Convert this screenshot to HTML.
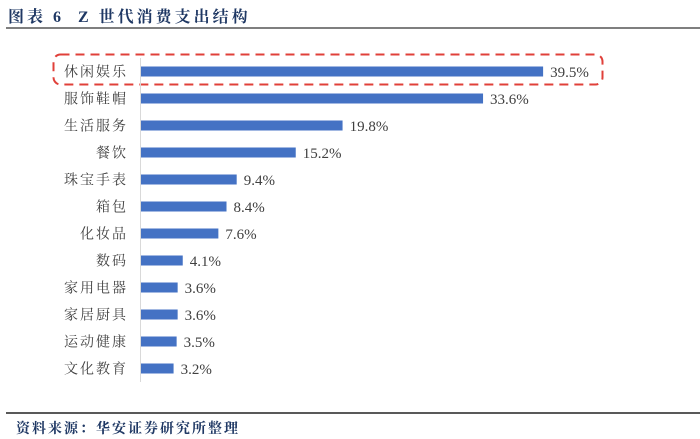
<!DOCTYPE html>
<html><head><meta charset="utf-8"><style>
body{margin:0;background:#fff;width:700px;height:439px;overflow:hidden;position:relative}
.t{position:absolute;font-family:"Liberation Serif","Noto Serif CJK SC",serif;font-weight:bold;color:#1f3864}
</style></head><body>
<div class="t" style="left:8px;top:4px;font-size:16px;letter-spacing:3px">图表 6&nbsp; Z 世代消费支出结构</div>
<div style="position:absolute;left:6px;top:27px;width:694px;height:2px;background:#7f7f7f"></div>
<svg id="chart" width="700" height="439" style="position:absolute;left:0;top:0">
<rect x="53.5" y="54.5" width="549" height="30" rx="7" fill="none" stroke="#e0403a" stroke-width="2" stroke-dasharray="9,6"/>
<line x1="140.5" y1="58" x2="140.5" y2="382" stroke="#d9d9d9" stroke-width="1"/>
</svg>
<div style="position:absolute;left:6px;top:412px;width:694px;height:2px;background:#595959"></div>
<div class="t" style="left:16px;top:418px;font-size:14px;letter-spacing:2px">资料来源：华安证券研究所整理</div>
<script>
const categories=["休闲娱乐","服饰鞋帽","生活服务","餐饮","珠宝手表","箱包","化妆品","数码","家用电器","家居厨具","运动健康","文化教育"];
const values=[39.5,33.6,19.8,15.2,9.4,8.4,7.6,4.1,3.6,3.6,3.5,3.2];
const valueLabels=["39.5%","33.6%","19.8%","15.2%","9.4%","8.4%","7.6%","4.1%","3.6%","3.6%","3.5%","3.2%"];
const svg=document.getElementById('chart');
const NS='http://www.w3.org/2000/svg';
const x0=141,pxPer=10.18;
function xs(v){return x0+v*pxPer;}
function ys(i){return 71.5+i*27;}
categories.forEach((c,i)=>{
  const r=document.createElementNS(NS,'rect');
  r.setAttribute('x',x0);r.setAttribute('y',ys(i)-5);
  r.setAttribute('width',xs(values[i])-x0);r.setAttribute('height',10);
  r.setAttribute('fill','#4472c4');
  
  
  svg.appendChild(r);
  const t=document.createElementNS(NS,'text');
  t.setAttribute('x',128);t.setAttribute('y',ys(i)+5);
  t.setAttribute('text-anchor','end');t.setAttribute('font-size','14');
  t.setAttribute('letter-spacing','2');
  t.setAttribute('font-family','"Liberation Serif","Noto Serif CJK SC",serif');
  t.setAttribute('fill','#404040');t.textContent=c;
  
  
  svg.appendChild(t);
  const v=document.createElementNS(NS,'text');
  v.setAttribute('x',xs(values[i])+7);v.setAttribute('y',ys(i)+5.5);
  v.setAttribute('font-size','15');
  v.setAttribute('font-family','"Liberation Serif",serif');
  v.setAttribute('fill','#404040');v.textContent=valueLabels[i];
  
  
  svg.appendChild(v);
});
</script>
</body></html>
